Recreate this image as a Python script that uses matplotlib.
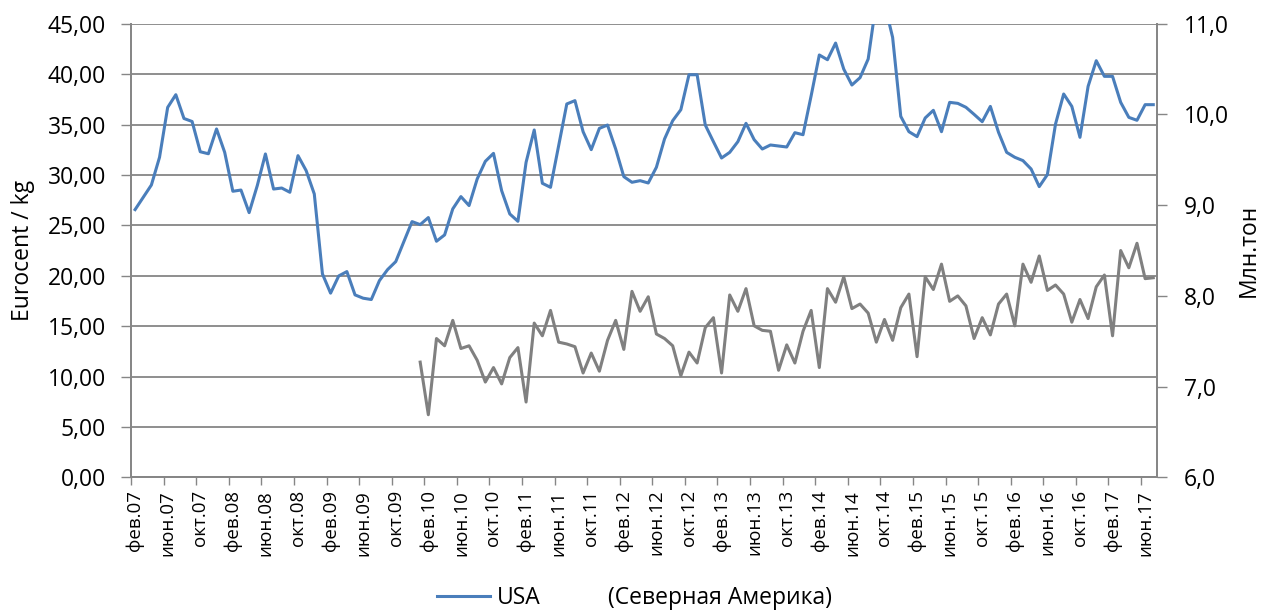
import matplotlib
matplotlib.use('Agg')
import matplotlib.pyplot as plt
from matplotlib.lines import Line2D
from matplotlib.ticker import FixedLocator
import numpy as np

plt.rcParams['font.family'] = ['Open Sans', 'DejaVu Sans']

# months from фев.07 to июл.17
month_names = ['янв', 'фев', 'мар', 'апр', 'май', 'июн',
               'июл', 'авг', 'сен', 'окт', 'ноя', 'дек']
months = [f'{month_names[(1 + k) % 12]}.{(7 + (1 + k) // 12):02d}' for k in range(126)]

# USA price, Eurocent / kg
usa = [26.56, 27.78, 29.00, 31.75, 36.70, 37.96, 35.60, 35.30, 32.30, 32.10,
       34.56, 32.24, 28.38, 28.50, 26.26, 28.94, 32.08, 28.60, 28.70, 28.28,
       31.91, 30.43, 28.11, 20.18, 18.27, 19.98, 20.41, 18.10, 17.77, 17.64,
       19.52, 20.61, 21.40, 23.39, 25.37, 25.07, 25.77, 23.42, 24.05, 26.63,
       27.85, 26.96, 29.60, 31.35, 32.14, 28.44, 26.13, 25.40, 31.25, 34.46,
       29.17, 28.77, 32.90, 37.04, 37.37, 34.29, 32.51, 34.62, 34.95, 32.57,
       29.83, 29.27, 29.43, 29.20, 30.76, 33.57, 35.38, 36.47, 39.94, 39.94,
       34.95, 33.30, 31.68, 32.24, 33.30, 35.12, 33.50, 32.57, 32.97, 32.87,
       32.77, 34.19, 33.99, 37.86, 41.90, 41.43, 43.08, 40.50, 38.92, 39.65,
       41.50, 47.20, 47.00, 43.65, 35.81, 34.29, 33.80, 35.65, 36.41, 34.29,
       37.20, 37.10, 36.71, 36.01, 35.28, 36.80, 34.23, 32.24, 31.75, 31.42,
       30.59, 28.84, 30.03, 35.05, 38.03, 36.80, 33.73, 38.79, 41.33, 39.78,
       39.78, 37.20, 35.71, 35.42, 36.97, 36.97]

# North America, млн. тон (from янв.10)
na_start = 35
na = [7.27, 6.69, 7.53, 7.45, 7.73, 7.42, 7.45, 7.29, 7.05, 7.21,
      7.03, 7.32, 7.43, 6.83, 7.70, 7.56, 7.84, 7.49, 7.47, 7.44,
      7.15, 7.37, 7.17, 7.51, 7.73, 7.41, 8.05, 7.83, 7.99, 7.58,
      7.53, 7.45, 7.12, 7.38, 7.26, 7.65, 7.76, 7.15, 8.01, 7.83,
      8.08, 7.67, 7.62, 7.61, 7.18, 7.46, 7.26, 7.61, 7.84, 7.21,
      8.08, 7.93, 8.21, 7.86, 7.91, 7.81, 7.49, 7.74, 7.51, 7.87,
      8.02, 7.33, 8.21, 8.07, 8.35, 7.94, 8.00, 7.89, 7.53, 7.76,
      7.57, 7.91, 8.02, 7.67, 8.35, 8.15, 8.44, 8.06, 8.12, 8.02,
      7.71, 7.96, 7.75, 8.10, 8.23, 7.56, 8.50, 8.31, 8.58, 8.19,
      8.20]

left_ticks = [0, 5, 10, 15, 20, 25, 30, 35, 40, 45]
right_ticks = [6, 7, 8, 9, 10, 11]

blue = '#4A7EBB'
gray = '#808080'
axis_gray = '#868686'
fs = 16.5

fig = plt.figure(figsize=(12.61, 6.10), dpi=100)
ax = fig.add_axes([0.1039, 0.2175, 0.8139, 0.7436])
ax2 = ax.twinx()

x = np.arange(len(months))
ax.plot(x, usa, color=blue, lw=2.2, zorder=3)
ax2.plot(x[na_start:], na, color=gray, lw=2.2)

ax.set_xlim(-0.5, len(months) - 0.5)
ax.set_ylim(0, 45)
ax2.set_ylim(6, 11)

ax.set_yticks(left_ticks)
ax.set_yticklabels([f'{v:.2f}'.replace('.', ',') for v in left_ticks], fontsize=fs)
ax2.set_yticks(right_ticks)
ax2.set_yticklabels([f'{v:.1f}'.replace('.', ',') for v in right_ticks], fontsize=fs)

lab_pos = x[::4]
ax.set_xticks(lab_pos)
ax.set_xticklabels([months[i] for i in lab_pos], rotation=90, fontsize=13.5)
ax.xaxis.set_minor_locator(FixedLocator(np.arange(-0.5, len(months), 4)))
ax.tick_params(axis='x', which='major', length=0, pad=9)
ax.tick_params(axis='x', which='minor', length=6, width=1, color=axis_gray, direction='out')
ax.tick_params(axis='y', length=7, width=1, color=axis_gray, pad=11)
ax2.tick_params(axis='y', length=7, width=1, color=axis_gray, pad=12)

ax.grid(axis='y', color=axis_gray, lw=1.3)
ax.set_axisbelow(True)
for a in (ax, ax2):
    a.spines['top'].set_visible(False)
    for s in ('left', 'right', 'bottom'):
        a.spines[s].set_color(axis_gray)
        a.spines[s].set_linewidth(1.3)

ax.set_ylabel('Eurocent / kg', fontsize=fs, labelpad=9)
ax2.set_ylabel('Млн.тон', fontsize=fs, labelpad=6)

handles = [Line2D([], [], color=blue, lw=2.2), Line2D([], [], color='none', lw=2.2)]
fig.legend(handles, ['USA', '(Северная Америка)'], loc='center', bbox_to_anchor=(0.503, 0.019),
           ncol=2, frameon=False, fontsize=fs, handlelength=2.3, handletextpad=0.3,
           columnspacing=0.35)

fig.savefig('out.png', dpi=100)
